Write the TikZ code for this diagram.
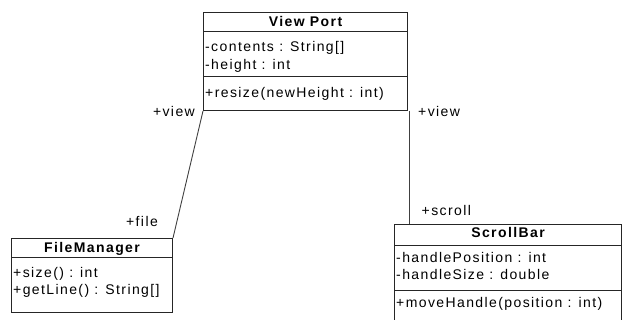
\documentclass[tikz,border=0pt]{standalone}
\usepackage{fontspec}
\setmainfont{Liberation Sans}[LetterSpace=10]
\usetikzlibrary{positioning}

\begin{document}
\begin{tikzpicture}[
        x=1pt, y=-1pt,
        font=\fontsize{14}{17}\selectfont,
        classbox/.style={draw=black!85, line width=1pt, inner sep=0pt, anchor=north west},
        cname/.style={font=\fontsize{14}{17}\selectfont\bfseries, inner sep=0pt, anchor=base},
        member/.style={inner sep=0pt, anchor=base west},
        role/.style={inner sep=0pt},
        sep/.style={draw=black!85, line width=1pt},
        assoc/.style={draw=black!75, line width=0.9pt}
    ]
        \useasboundingbox (0,0) rectangle (622,320);

        % View Port
        \node[classbox, minimum width=204pt, minimum height=98pt] (viewport) at (203,12) {};
        \node[cname] (viewport-name) at ([yshift=-15pt]viewport.north) {View Port};
        \draw[sep] ([yshift=-20pt]viewport.north west) -- ([yshift=-20pt]viewport.north east);
        \node[member] (viewport-a1) at ([xshift=2pt,yshift=-40pt]viewport.north west) {-contents : String[]};
        \node[member] (viewport-a2) at ([xshift=2pt,yshift=-58pt]viewport.north west) {-height : int};
        \draw[sep] ([yshift=-65pt]viewport.north west) -- ([yshift=-65pt]viewport.north east);
        \node[member] (viewport-o1) at ([xshift=2pt,yshift=-86pt]viewport.north west) {+resize(newHeight : int)};

        % FileManager
        \node[classbox, minimum width=161pt, minimum height=74pt] (filemgr) at (11,238) {};
        \node[cname] (filemgr-name) at ([yshift=-15pt]filemgr.north) {FileManager};
        \draw[sep] ([yshift=-20pt]filemgr.north west) -- ([yshift=-20pt]filemgr.north east);
        \node[member] (filemgr-o1) at ([xshift=2pt,yshift=-40pt]filemgr.north west) {+size() : int};
        \node[member] (filemgr-o2) at ([xshift=2pt,yshift=-57pt]filemgr.north west) {+getLine() : String[]};

        % ScrollBar
        \node[classbox, minimum width=227pt, minimum height=110pt] (scrollbar) at (394,224) {};
        \node[cname] (scrollbar-name) at ([yshift=-14pt]scrollbar.north) {ScrollBar};
        \draw[sep] ([yshift=-21.5pt]scrollbar.north west) -- ([yshift=-21.5pt]scrollbar.north east);
        \node[member] (scrollbar-a1) at ([xshift=2pt,yshift=-39pt]scrollbar.north west) {-handlePosition : int};
        \node[member] (scrollbar-a2) at ([xshift=2pt,yshift=-56pt]scrollbar.north west) {-handleSize : double};
        \draw[sep] ([yshift=-67pt]scrollbar.north west) -- ([yshift=-67pt]scrollbar.north east);
        \node[member] (scrollbar-o1) at ([xshift=2pt,yshift=-84pt]scrollbar.north west) {+moveHandle(position : int)};

        % associations
        \draw[assoc] (viewport.south west) -- (filemgr.north east);
        \coordinate (scroll-end) at ([xshift=1.5pt]viewport.south east |- scrollbar.north);
        \draw[assoc] ([xshift=1.5pt]viewport.south east) -- (scroll-end);

        % role names
        \node[role, anchor=base east] (role-view1) at ([xshift=-8pt,yshift=-6pt]viewport.south west) {+view};
        \node[role, anchor=base west] (role-view2) at ([xshift=10pt,yshift=-6pt]viewport.south east) {+view};
        \node[role, anchor=base east] (role-file) at ([xshift=-15pt,yshift=11pt]filemgr.north east) {+file};
        \node[role, anchor=base west] (role-scroll) at ([xshift=12pt,yshift=8pt]scroll-end) {+scroll};
    \end{tikzpicture}
\end{document}
